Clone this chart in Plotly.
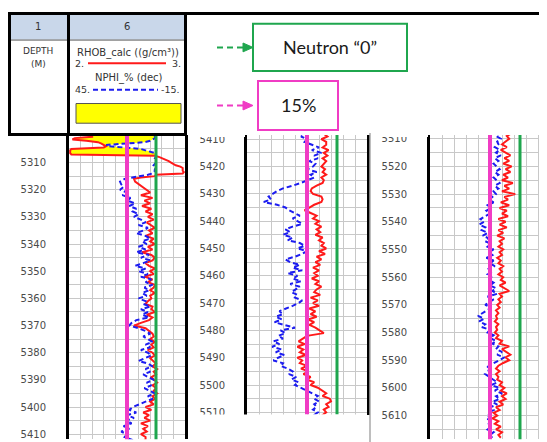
import plotly.graph_objects as go

W, H = 547, 442
OX, OY = 8, 8   # the page body margin shifts the figure by this much

# ---------------- data ----------------
# 0.5 m sampling through the shaded top interval, then 1 m sampling
DEPTH = [5300 + 0.5 * i for i in range(32)] + list(range(5316, 5619))

RHOB = [
    2.20, 2.20, 2.05, 2.03, 2.15, 2.25, 2.28, 2.30, 2.32, 2.30,
    2.02, 2.01, 2.01, 2.01, 2.02, 2.74, 2.78, 2.81, 2.84, 2.86,
    2.88, 2.90, 2.92, 2.96, 2.98, 2.98, 2.98, 2.99, 2.98, 2.75,
    2.74, 2.62,
    2.56, 2.57, 2.60, 2.64,
    2.66, 2.70, 2.62, 2.72, 2.65, 2.70, 2.63, 2.71, 2.66, 2.72,
    2.68, 2.73, 2.67, 2.71, 2.74, 2.69, 2.72, 2.66, 2.73, 2.70,
    2.74, 2.68, 2.72, 2.63, 2.71, 2.74, 2.72, 2.66, 2.69, 2.74,
    2.70, 2.73, 2.65, 2.72, 2.68, 2.74, 2.73, 2.70, 2.74, 2.70,
    2.71, 2.68, 2.66, 2.72, 2.71, 2.74, 2.67, 2.72, 2.69, 2.62,
    2.56, 2.66, 2.69, 2.72, 2.73, 2.70, 2.74, 2.71, 2.73, 2.68,
    2.72, 2.74, 2.70, 2.73, 2.75, 2.72, 2.76, 2.73, 2.75, 2.71,
    2.74, 2.76, 2.72, 2.75, 2.73, 2.76, 2.72, 2.74, 2.70, 2.73,
    2.66, 2.71, 2.64, 2.69, 2.65, 2.70, 2.62, 2.68, 2.64, 2.67,
    2.62, 2.66, 2.66, 2.63, 2.68, 2.64, 2.67, 2.63, 2.66, 2.64,
    2.62, 2.65, 2.63, 2.66, 2.62, 2.64, 2.63, 2.58, 2.54, 2.53,
    2.55, 2.62, 2.63, 2.62, 2.56, 2.52, 2.48, 2.53, 2.58, 2.55,
    2.60, 2.57, 2.62, 2.58, 2.61, 2.57, 2.63, 2.60, 2.64, 2.62,
    2.66, 2.60, 2.65, 2.58, 2.62, 2.57, 2.61, 2.55, 2.60, 2.56,
    2.59, 2.54, 2.60, 2.57, 2.62, 2.58, 2.56, 2.61, 2.53, 2.59,
    2.55, 2.60, 2.52, 2.57, 2.53, 2.58, 2.51, 2.56, 2.52, 2.57,
    2.60, 2.64, 2.50, 2.46, 2.43, 2.48, 2.42, 2.47, 2.44, 2.49,
    2.42, 2.46, 2.44, 2.50, 2.45, 2.51, 2.47, 2.53, 2.50, 2.56,
    2.53, 2.59, 2.62, 2.66, 2.63, 2.69, 2.70, 2.66, 2.68, 2.64,
    2.66, 2.63, 2.60, 2.64, 2.59, 2.63, 2.67, 2.62, 2.66, 2.61,
    2.68, 2.63, 2.67, 2.61, 2.65, 2.60, 2.69, 2.62, 2.66, 2.60,
    2.71, 2.62, 2.65, 2.59, 2.66, 2.58, 2.64, 2.60, 2.65, 2.57,
    2.63, 2.58, 2.64, 2.57, 2.61, 2.56, 2.62, 2.58, 2.60, 2.57,
    2.61, 2.58, 2.60, 2.56, 2.59, 2.57, 2.61, 2.58, 2.60, 2.57,
    2.61, 2.59, 2.63, 2.58, 2.62, 2.66, 2.58, 2.60, 2.57, 2.59,
    2.56, 2.58, 2.55, 2.57, 2.55, 2.56, 2.54, 2.57, 2.55, 2.56,
    2.54, 2.57, 2.55, 2.60, 2.58, 2.66, 2.60, 2.64, 2.67, 2.63,
    2.66, 2.61, 2.57, 2.55, 2.58, 2.55, 2.57, 2.56, 2.60, 2.58,
    2.62, 2.59, 2.64, 2.60, 2.63, 2.58, 2.61, 2.55, 2.58, 2.53,
    2.56, 2.52, 2.57, 2.54, 2.59, 2.55, 2.60, 2.57, 2.59,
]

NPHI = [
    0.6, 0.6, 0.6, 1.8, 3.0, 6.0, 18.0, 25.8, 24.0, 15.0,
    7.8, 5.4, 3.0, 0.6, 0.0, 0.0, 0.0, 0.6, 0.6, 0.0,
    0.0, 0.6, 1.2, 0.0, 0.0, 0.6, 0.6, 1.2, 1.8, 4.2,
    9.0, 13.8,
    16.2, 18.6, 18.0, 16.8,
    18.6, 15.0, 17.4, 13.2, 15.0, 10.8, 13.8, 10.2, 12.0, 9.0,
    11.4, 7.8, 5.4, 9.0, 4.2, 6.6, 10.2, 5.4, 3.0, 7.2,
    4.8, 9.0, 5.4, 10.2, 3.6, 7.8, 3.0, 6.6, 10.8, 5.4,
    9.0, 4.2, 7.8, 2.4, 5.4, 1.8, 6.0, 3.6, 7.2, 4.8,
    9.0, 5.4, 6.6, 3.0, 7.8, 4.2, 7.2, 3.6, 10.2, 12.6,
    13.8, 9.0, 5.4, 3.0, 6.6, 4.2, 1.8, 5.4, 3.0, 7.8,
    4.2, 2.4, 6.0, 9.0, 4.2, 1.8, 5.4, 3.0, 6.6, 3.6,
    1.2, 4.8, 2.4, 6.0, 3.0, 0.6, 4.2, 1.8, 5.4, 9.0,
    12.0, 13.8, 10.2, 15.0, 11.4, 15.6, 12.6, 16.8, 13.8, 18.0,
    15.0, 16.2, 12.0, 9.0, 12.6, 7.8, 11.4, 9.6, 13.8, 10.8,
    12.0, 15.0, 10.2, 13.2, 11.4, 14.4, 18.0, 22.2, 27.0, 30.0,
    31.8, 34.2, 33.0, 36.6, 30.0, 25.8, 24.0, 21.0, 18.6, 22.2,
    19.8, 17.4, 22.2, 25.8, 23.4, 27.0, 22.2, 24.6, 18.6, 16.2,
    19.8, 15.0, 17.4, 21.0, 25.8, 23.4, 18.6, 22.2, 17.4, 24.6,
    19.8, 22.2, 18.0, 23.4, 18.6, 21.0, 22.8, 19.8, 21.0, 17.4,
    19.2, 22.2, 25.2, 28.8, 27.0, 30.6, 27.6, 31.2, 26.4, 21.0,
    28.2, 25.8, 29.4, 27.0, 31.8, 28.8, 32.4, 27.6, 30.6, 26.4,
    29.4, 31.8, 27.0, 28.2, 24.6, 22.2, 24.0, 20.4, 22.8, 19.2,
    21.0, 18.0, 15.0, 12.0, 9.6, 11.4, 9.0, 11.4, 10.2, 12.0,
    9.6, 11.4, 10.8, 12.6, 10.2, 12.0, 9.6, 12.6, 10.8, 13.2,
    11.4, 10.2, 12.6, 10.8, 13.2, 11.4, 10.2, 12.6, 10.8, 13.2,
    12.0, 13.8, 15.6, 13.2, 16.2, 14.4, 16.8, 15.0, 17.4, 19.8,
    18.0, 20.4, 17.4, 19.2, 16.2, 18.6, 15.6, 17.4, 14.4, 16.2,
    13.2, 15.6, 13.8, 16.8, 13.2, 15.0, 12.6, 15.6, 13.8, 16.2,
    14.4, 15.6, 13.2, 15.0, 12.0, 13.8, 11.4, 16.2, 13.2, 15.0,
    17.4, 14.4, 16.8, 18.6, 21.0, 18.0, 20.4, 17.4, 19.2, 15.0,
    16.2, 13.2, 15.0, 12.0, 13.8, 10.8, 12.0, 9.0, 11.4, 7.8,
    10.2, 12.6, 15.6, 16.8, 15.0, 17.4, 15.6, 13.8, 11.4, 14.4,
    10.2, 12.6, 9.0, 12.0, 10.2, 13.8, 11.4, 15.0, 13.2, 16.2,
    15.0, 16.8, 13.8, 15.6, 14.4, 16.2, 13.2, 15.0, 13.8,
]
assert len(DEPTH) == len(RHOB) == len(NPHI)

RHOB_SCALE = (2.0, 3.0)      # left, right
NPHI_SCALE = (45.0, -15.0)   # left, right
NPHI_CUTOFF = 15.0           # "15%"
NPHI_ZERO = 0.0              # Neutron "0"

# depth windows of the three screenshots (top, bottom)
WINDOWS = [(5299.5, 5411.8), (5408.1, 5510.8), (5508.3, 5618.5)]

# ---------------- styling / geometry (window pixels) ----------------
# track left, track right, top, bottom, draw right border, tick label standoff
GEOM = [(69, 185, 132, 442, True, 18), (247, 367, 132, 417, True, 17), (430, 550, 132, 442, False, 18)]
RED = "#ff1a1a"
BLUE = "#1c1cf0"
YELLOW = "#ffff00"
MAGENTA = "#f03cc4"
GREEN = "#1fa64e"
GRID = "#c8c8c8"
GRID50 = "#999999"
TICKFONT = dict(family="DejaVu Sans", size=10, color="#4a4a4a")
HFONT = "DejaVu Sans"
BLUEDASH = "5px,3px"


def px(x):
    return (x - OX) / W


def py(y):
    return 1 - (y - OY) / H


def ax(n):
    return "" if n == 1 else str(n)


# RHOB-equivalent of NPHI, used only for the crossover shading
span_r = RHOB_SCALE[1] - RHOB_SCALE[0]
span_n = NPHI_SCALE[0] - NPHI_SCALE[1]
nphi_as_rhob = [RHOB_SCALE[0] + (NPHI_SCALE[0] - n) / span_n * span_r for n in NPHI]
fill_right = [max(r, e) for r, e in zip(RHOB, nphi_as_rhob)]

fig = go.Figure()
layout = {}
shapes = []

for k, ((x0, x1, yt, yb, rb, standoff), (dtop, dbot)) in enumerate(zip(GEOM, WINDOWS)):
    xm, xn = 2 * k + 1, 2 * k + 2
    ym, yg = 2 * k + 1, 2 * k + 2
    vis_x1 = min(x1, W + OX)
    frac = (vis_x1 - x0) / (x1 - x0)
    xdom = [px(x0), px(vis_x1)]
    ydom = [max(0.0, py(yb)), py(yt)]
    rr = [RHOB_SCALE[0], RHOB_SCALE[0] + frac * span_r]
    nr = [NPHI_SCALE[0], NPHI_SCALE[0] - frac * span_n]
    yr = [dbot, dtop]

    layout["xaxis" + ax(xm)] = dict(
        domain=xdom, range=rr, anchor="y" + ax(ym), dtick=0.1, tick0=RHOB_SCALE[0],
        showgrid=True, gridcolor=GRID, gridwidth=1, showticklabels=False,
        zeroline=False, showline=False, ticks="", fixedrange=True)
    layout["xaxis" + ax(xn)] = dict(
        domain=xdom, range=nr, anchor="y" + ax(ym), overlaying="x" + ax(xm),
        showgrid=False, showticklabels=False, zeroline=False, ticks="", showline=False)
    layout["yaxis" + ax(ym)] = dict(
        domain=ydom, range=yr, anchor="x" + ax(xm), dtick=10, tick0=0,
        showgrid=True, gridcolor=GRID, gridwidth=1,
        minor=dict(dtick=5, tick0=0, showgrid=True, gridcolor=GRID, gridwidth=1),
        showline=True, linecolor="black", linewidth=3, mirror=rb, ticks="",
        ticklabelstandoff=standoff, tickfont=TICKFONT, zeroline=False)
    layout["yaxis" + ax(yg)] = dict(
        domain=ydom, range=yr, anchor="x" + ax(xm), overlaying="y" + ax(ym),
        dtick=50, tick0=0, showgrid=True, gridcolor=GRID50, gridwidth=1,
        showticklabels=False, zeroline=False, ticks="", showline=False)

    xa, xb, ya = "x" + ax(xm), "x" + ax(xn), "y" + ax(ym)
    fig.add_trace(go.Scatter(x=RHOB, y=DEPTH, xaxis=xa, yaxis=ya, mode="lines",
                             line=dict(width=0), hoverinfo="skip", showlegend=False))
    fig.add_trace(go.Scatter(x=fill_right, y=DEPTH, xaxis=xa, yaxis=ya, mode="lines",
                             line=dict(width=0), fill="tonextx", fillcolor=YELLOW,
                             hoverinfo="skip", showlegend=False))
    fig.add_trace(go.Scatter(x=RHOB, y=DEPTH, xaxis=xa, yaxis=ya, mode="lines",
                             line=dict(color=RED, width=2), name="RHOB_calc", showlegend=False))
    fig.add_trace(go.Scatter(x=NPHI, y=DEPTH, xaxis=xb, yaxis=ya, mode="lines",
                             line=dict(color=BLUE, width=2, dash=BLUEDASH), name="NPHI_%",
                             showlegend=False))

    for val, col, wd in ((NPHI_CUTOFF, MAGENTA, 4), (NPHI_ZERO, GREEN, 3)):
        shapes.append(dict(type="line", xref=xb, yref=ya + " domain", x0=val, x1=val,
                           y0=0, y1=1, line=dict(color=col, width=wd), layer="above"))


# ---------------- helpers for paper-space decoration ----------------
def rect(x0, y0, x1, y1, fill=None, line=None, lw=0):
    d = dict(type="rect", xref="paper", yref="paper", x0=px(x0), x1=px(x1),
             y0=py(y1), y1=py(y0), layer="above", line=dict(width=lw))
    if fill:
        d["fillcolor"] = fill
    if line:
        d["line"] = dict(color=line, width=lw)
    return d


def hline(x0, x1, y, color, w, dash=None):
    ln = dict(color=color, width=w)
    if dash:
        ln["dash"] = dash
    return dict(type="line", xref="paper", yref="paper", x0=px(x0), x1=px(x1),
                y0=py(y), y1=py(y), line=ln, layer="above")


def vline(x, y0, y1, color, w):
    return dict(type="line", xref="paper", yref="paper", x0=px(x), x1=px(x),
                y0=py(y0), y1=py(y1), line=dict(color=color, width=w), layer="above")


# covers for the cropped screenshot edges
shapes.append(rect(0, 0, W + OX, 133, fill="white"))
shapes.append(rect(0, 133, 66, 141, fill="white"))
shapes.append(rect(188, 133, 245, 135, fill="white"))
shapes.append(rect(372, 133, 428, 135, fill="white"))
shapes.append(rect(188, 417, 366, H + OY, fill="white"))
# separator between screenshots
shapes.append(vline(370, 131, H + OY, "#a8a8a8", 1.5))

# header of the first screenshot
shapes.append(rect(9, 10, 185, 36, fill="#c9d7ea"))
shapes.append(hline(9, 185, 36.5, "#555555", 1))
shapes.append(hline(8, W + OX, 9.5, "black", 3))
shapes.append(hline(8, 186, 132.5, "black", 3))
for xv in (9.5, 68.5, 185.5):
    shapes.append(vline(xv, 8, 134, "black", 3))
shapes.append(hline(88, 166, 60, RED, 2))
shapes.append(hline(93, 158, 87, BLUE, 2, dash=BLUEDASH))
shapes.append(rect(76, 101, 181, 121, fill=YELLOW, line="#555555", lw=1))

ann = []


def text(x, y, s, size=9, xanchor="center", color="#333333", family=HFONT):
    ann.append(dict(x=px(x), y=py(y), xref="paper", yref="paper", text=s, showarrow=False,
                    xanchor=xanchor, yanchor="middle",
                    font=dict(family=family, size=size, color=color)))


text(38, 23, "1", 10)
text(127, 23, "6", 10)
text(38, 48, "DEPTH", 9)
text(38, 61, "(M)", 9)
text(128, 50, "RHOB_calc ((g/cm³))", 10)
text(73, 60, "2.", 9.5, xanchor="left")
text(183, 60, "3.", 9.5, xanchor="right")
text(129, 75, "NPHI_% (dec)", 10)
text(73, 87, "45.", 9.5, xanchor="left")
text(182, 87, "-15.", 9.5, xanchor="right")

# call-out boxes
shapes.append(rect(253, 20, 407, 68, line=GREEN, lw=2))
shapes.append(rect(258, 78, 338, 128, line=MAGENTA, lw=2))
for yv, col in ((44, GREEN), (103, MAGENTA)):
    shapes.append(hline(217, 244, yv, col, 2, dash="6px,4px"))
    shapes.append(dict(type="path", xref="paper", yref="paper",
                       path=f"M {px(243)},{py(yv - 4.5)} L {px(253)},{py(yv)} L {px(243)},{py(yv + 4.5)} Z",
                       fillcolor=col, line=dict(color=col, width=1), layer="above"))
text(330, 44, "Neutron “0”", 18, color="#1a1a1a", family="Lato")
text(298, 103, "15%", 18, color="#1a1a1a", family="Lato")

fig.update_layout(
    width=W, height=H, margin=dict(l=0, r=0, t=0, b=0),
    paper_bgcolor="white", plot_bgcolor="white", showlegend=False,
    shapes=shapes, annotations=ann, **layout)

fig.write_html("out.html")
